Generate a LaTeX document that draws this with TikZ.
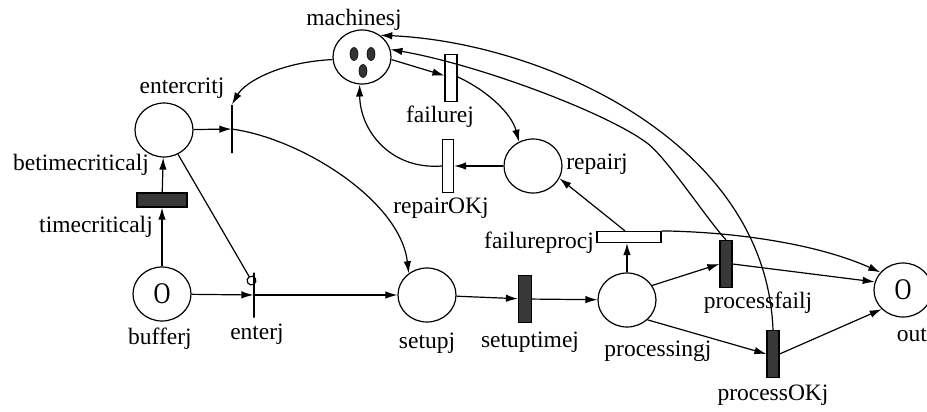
\documentclass[tikz,border=0pt]{standalone}
\usepackage{fontspec}
\setmainfont{Liberation Serif}
\usetikzlibrary{arrows.meta,shapes.geometric}
\begin{document}
\begin{tikzpicture}[x=1pt,y=-1pt,
  place/.style={ellipse,draw,line width=1.2pt,minimum width=58pt,minimum height=54pt,inner sep=0pt},
  trw/.style={draw,line width=1.2pt,fill=white,inner sep=0pt},
  trb/.style={draw,line width=1.2pt,fill=black!78,inner sep=0pt},
  tbar/.style={draw,line width=1.2pt,inner sep=0pt,minimum width=0pt},
  lbl/.style={font=\fontsize{23.5}{26}\selectfont,inner sep=0pt},
  arc/.style={draw,line width=1.2pt,-{Latex[length=12pt,width=7.5pt]}},
  token/.style={ellipse,fill=black!80,draw,line width=0.6pt,minimum width=8pt,minimum height=13pt,inner sep=0pt},
  markglyph/.style={font=\fontsize{30}{30}\selectfont,inner sep=0pt}
]
\useasboundingbox (0,0) rectangle (927,412);
% places
\node[place] (mach) at (362,57) {};
\node[token] (tk1) at (354,54) {};
\node[token] (tk2) at (371,54) {};
\node[token] (tk3) at (363,71) {};
\node[place] (ecrit) at (164,130) {};
\node[place] (rep) at (533,166) {};
\node[place] (buf) at (162,294) {};
\node[markglyph] (bufm) at (162,294) {\scalebox{0.78}[1]{O}};
\node[place] (setup) at (427,295) {};
\node[place] (proc) at (627,300) {};
\node[place] (out) at (903,290) {};
\node[markglyph] (outm) at (903,290) {\scalebox{0.78}[1]{O}};
% transitions
\node[trb,minimum width=50pt,minimum height=14pt] (tcrit) at (162,200) {};
\node[tbar,minimum height=48pt] (ecbar) at (232,129) {};
\node[tbar,minimum height=45pt] (enter) at (254,295) {};
\node[trw,minimum width=12pt,minimum height=47pt] (failj) at (451,78) {};
\node[trw,minimum width=11pt,minimum height=53pt] (repok) at (448,166) {};
\node[trw,minimum width=64pt,minimum height=11pt] (fproc) at (629,237) {};
\node[trb,minimum width=13pt,minimum height=47pt] (stime) at (525,299) {};
\node[trb,minimum width=12pt,minimum height=47pt] (pfail) at (726,264) {};
\node[trb,minimum width=12pt,minimum height=47pt] (pok) at (773,354) {};
% labels
\node[lbl] (l1) at (354,20) {machinesj};
\node[lbl] (l2) at (182,88) {entercritj};
\node[lbl] (l3) at (81,165) {betimecriticalj};
\node[lbl] (l4) at (96,227) {timecriticalj};
\node[lbl] (l5) at (160,339) {bufferj};
\node[lbl] (l6) at (257,334) {enterj};
\node[lbl] (l7) at (427,343) {setupj};
\node[lbl] (l8) at (530,342) {setuptimej};
\node[lbl] (l9) at (440,117) {failurej};
\node[lbl] (l10) at (441,208) {repairOKj};
\node[lbl] (l11) at (597,164) {repairj};
\node[lbl] (l12) at (539,243) {failureprocj};
\node[lbl] (l13) at (658,351) {processingj};
\node[lbl] (l14) at (758,303) {processfailj};
\node[lbl] (l15) at (773,395) {processOKj};
\node[lbl] (l16) at (912,335) {out};
% arcs
\draw[arc] (mach.185) .. controls (280,62) and (245,82) .. (ecbar.north);
\draw[arc] (ecrit) -- (ecbar.west);
\draw[arc] (ecbar.west) .. controls (300,138) and (400,200) .. (setup.130);
\draw[line width=1.2pt,-{Circle[open,length=10pt,width=10pt]}] (ecrit.-60) -- ([yshift=-13pt]enter.north);
\draw[arc] (buf) -- (tcrit);
\draw[arc] (tcrit) -- (ecrit);
\draw[arc] (buf) -- (enter);
\draw[arc] (enter) -- (setup);
\draw[arc] (setup) -- (stime);
\draw[arc] (stime) -- (proc);
\draw[arc] (proc.north) -- (proc.north |- fproc.south);
\draw[arc] ([xshift=-4pt]fproc.north) -- (rep.-25);
\draw[arc] (fproc.north east) .. controls (740,232) and (820,245) .. (out.142);
\draw[arc] (proc.30) -- (pfail.west);
\draw[arc] (pfail.east) -- (out.164);
\draw[arc] (proc.-44) -- (pok.west);
\draw[arc] (pok.east) -- (out.222);
\draw[arc] (pok.north) .. controls (766,140) and (540,42) .. (mach.50);
\draw[arc] (pfail.north) .. controls (706,218) and (667,158) .. (647,143)
            .. controls (607,113) and (480,65) .. (mach.15);
\draw[arc] (mach.-5) -- (failj.160);
\draw[arc] (failj.10) .. controls (490,92) and (512,115) .. (rep.120);
\draw[arc] (rep) -- (repok);
\draw[arc] (repok.west) .. controls (390,170) and (360,130) .. (mach.-95);
\end{tikzpicture}
\end{document}
